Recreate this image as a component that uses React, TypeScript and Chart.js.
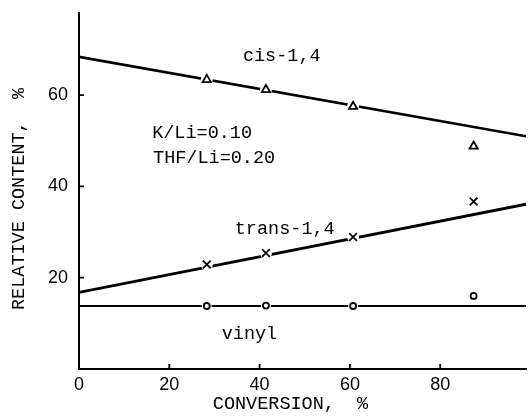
import React, { useEffect, useRef } from "react";
import { Chart, registerables } from "chart.js";

Chart.register(...registerables);

// Data
const conversion = [28.3, 41.4, 60.7, 87.4];
const cisValues = [63.4, 61.2, 57.5, 48.8];
const transValues = [22.9, 25.4, 28.9, 36.7];
const vinylValues = [13.8, 13.9, 13.8, 16.0];

// Fitted straight lines (endpoints at x = 0 and x = 99)
const lineX = [0, 99];
const cisLine = [68.4, 51.0];
const transLine = [16.8, 36.1];
const vinylLine = [13.8, 13.8];

const xTicks = [0, 20, 40, 60, 80];
const yTicks = [20, 40, 60];
const xMin = 0;
const xMax = 99;
const yMin = 0;
const yMax = 78;

const xTitle = "CONVERSION,  %";
const yTitle = "RELATIVE CONTENT,  %";

const annotations = [
  { text: "cis-1,4", x: 36.3, y: 68.6 },
  { text: "K/Li=0.10", x: 16.2, y: 51.6 },
  { text: "THF/Li=0.20", x: 16.4, y: 46.1 },
  { text: "trans-1,4", x: 34.5, y: 30.6 },
  { text: "vinyl", x: 31.6, y: 7.7 },
];

const MONO = "'Liberation Mono', 'DejaVu Sans Mono', monospace";
const SANS = "'Liberation Sans', Arial, sans-serif";

const pts = (xs: number[], ys: number[]) => xs.map((x, i) => ({ x, y: ys[i] }));

export default function App() {
  const ref = useRef<HTMLCanvasElement | null>(null);

  useEffect(() => {
    if (!ref.current) return;

    const overlay = {
      id: "overlay",
      afterDraw(chart: any) {
        const ctx = chart.ctx;
        const xs = chart.scales.x;
        const ys = chart.scales.y;
        const area = chart.chartArea;
        ctx.save();
        // inward tick marks
        ctx.strokeStyle = "#000";
        ctx.lineWidth = 1.8;
        ctx.beginPath();
        xTicks.forEach((v) => {
          if (v === xMin) return;
          const px = xs.getPixelForValue(v);
          ctx.moveTo(px, area.bottom);
          ctx.lineTo(px, area.bottom - 5);
        });
        yTicks.forEach((v) => {
          const py = ys.getPixelForValue(v);
          ctx.moveTo(area.left, py);
          ctx.lineTo(area.left + 5, py);
        });
        ctx.stroke();

        // annotations
        ctx.fillStyle = "#000";
        ctx.font = `18.5px ${MONO}`;
        ctx.textAlign = "left";
        ctx.textBaseline = "middle";
        annotations.forEach((a) => {
          ctx.fillText(a.text, xs.getPixelForValue(a.x), ys.getPixelForValue(a.y));
        });

        // axis titles
        ctx.textAlign = "center";
        ctx.fillText(xTitle, (area.left + area.right) / 2 - 12, 404);
        ctx.save();
        ctx.translate(19, (area.top + area.bottom) / 2 + 8);
        ctx.rotate(-Math.PI / 2);
        ctx.fillText(yTitle, 0, 0);
        ctx.restore();
        ctx.restore();
      },
    };

    const lineDs = (data: any[], width: number) => ({
      data,
      showLine: true,
      borderColor: "#000",
      borderWidth: width,
      pointRadius: 0,
      order: 3,
    });
    const markDs = (data: any[], style: string, radius: number) => ({
      data,
      showLine: false,
      pointStyle: style,
      pointRadius: radius,
      pointBorderWidth: 1.8,
      pointBorderColor: "#000",
      pointBackgroundColor: "#fff",
      order: 1,
    });
    const maskDs = (data: any[], radius: number) => ({
      data,
      showLine: false,
      pointStyle: "circle",
      pointRadius: radius,
      pointBorderWidth: 0,
      pointBorderColor: "#fff",
      pointBackgroundColor: "#fff",
      order: 2,
    });

    const zeroPad = (s: any) => {
      s.paddingTop = 0;
      s.paddingBottom = 0;
      s.paddingLeft = 0;
      s.paddingRight = 0;
    };

    const chart = new Chart(ref.current, {
      type: "scatter",
      data: {
        datasets: [
          lineDs(pts(lineX, cisLine), 2.6),
          lineDs(pts(lineX, transLine), 2.8),
          lineDs(pts(lineX, vinylLine), 1.8),
          maskDs(pts(conversion, cisValues), 6),
          maskDs(pts(conversion, transValues), 6),
          maskDs(pts(conversion, vinylValues), 5),
          markDs(pts(conversion, cisValues), "triangle", 4.8),
          markDs(pts(conversion, transValues), "crossRot", 5.5),
          markDs(pts(conversion, vinylValues), "circle", 3),
        ] as any,
      },
      options: {
        animation: false,
        responsive: false,
        events: [],
        layout: { autoPadding: false, padding: { top: 13, right: 2, left: 0, bottom: 0 } },
        plugins: { legend: { display: false }, tooltip: { enabled: false } },
        scales: {
          x: {
            type: "linear",
            min: xMin,
            max: xMax,
            afterBuildTicks: (s: any) => {
              s.ticks = xTicks.map((v) => ({ value: v }));
            },
            afterFit: (s: any) => {
              s.height = 49;
              zeroPad(s);
            },
            grid: { display: false, drawTicks: false },
            border: { display: true, color: "#000", width: 2 },
            ticks: {
              color: "#000",
              font: { family: SANS, size: 18 },
              padding: 5,
              maxRotation: 0,
            },
          },
          y: {
            type: "linear",
            min: yMin,
            max: yMax,
            afterBuildTicks: (s: any) => {
              s.ticks = yTicks.map((v) => ({ value: v }));
            },
            afterFit: (s: any) => {
              s.width = 79;
              zeroPad(s);
            },
            grid: { display: false, drawTicks: false },
            border: { display: true, color: "#000", width: 2 },
            ticks: {
              color: "#000",
              font: { family: SANS, size: 18 },
              padding: 11,
            },
          },
        },
      },
      plugins: [overlay],
    });

    return () => chart.destroy();
  }, []);

  return (
    <div style={{ position: "fixed", left: 0, top: 0, width: 528, height: 418, background: "#fff" }}>
      <canvas ref={ref} width={528} height={418} style={{ width: 528, height: 418 }} />
    </div>
  );
}
